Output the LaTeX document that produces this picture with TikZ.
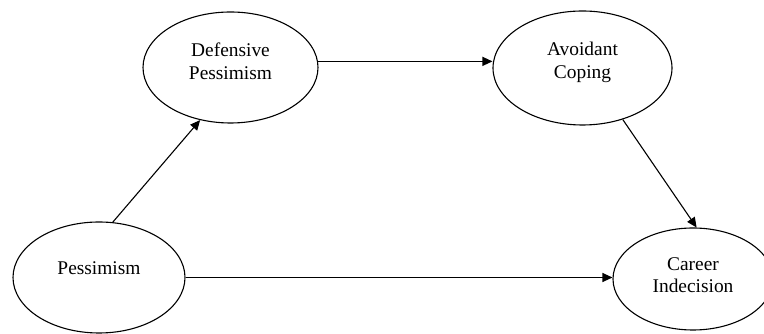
\documentclass[tikz,border=0pt]{standalone}
\usepackage{fontspec}
\setmainfont{Liberation Serif}
\usepackage{tikz}
\usetikzlibrary{arrows.meta}
\usetikzlibrary{shapes}
\tikzstyle{construct}=[ellipse, draw, line width=1.1pt, inner sep=0pt, align=center, font=\fontsize{19.4}{22.5}\selectfont]
\tikzstyle{effect}=[line width=1.1pt, -{Triangle[length=10pt,width=9pt]}]

\begin{document}
\begin{tikzpicture}[x=1pt,y=1pt]
		\useasboundingbox (0,0) rectangle (764,334);
		\node[construct, minimum width=175pt, minimum height=111pt, text depth=12.7pt] (defpess) at (230.5,266.5) {Defensive\\Pessimism};
		\node[construct, minimum width=179pt, minimum height=114pt, text depth=15.7pt] (avoid) at (582.5,266) {Avoidant\\Coping};
		\node[construct, minimum width=172pt, minimum height=111pt, text depth=18.2pt] (pess) at (99,56.5) {Pessimism};
		\node[construct, minimum width=160pt, minimum height=102pt, text depth=7.7pt] (indec) at (693,55) {Career\\Indecision};
		\draw[effect] (pess.76) -- (defpess.240);
		\draw[effect] (defpess.4) -- (defpess.4 -| avoid.west);
		\draw[effect] (avoid.308) -- (indec.86);
		\draw[effect] (pess.east) -- (pess.east -| indec.west);
	\end{tikzpicture}
\end{document}
